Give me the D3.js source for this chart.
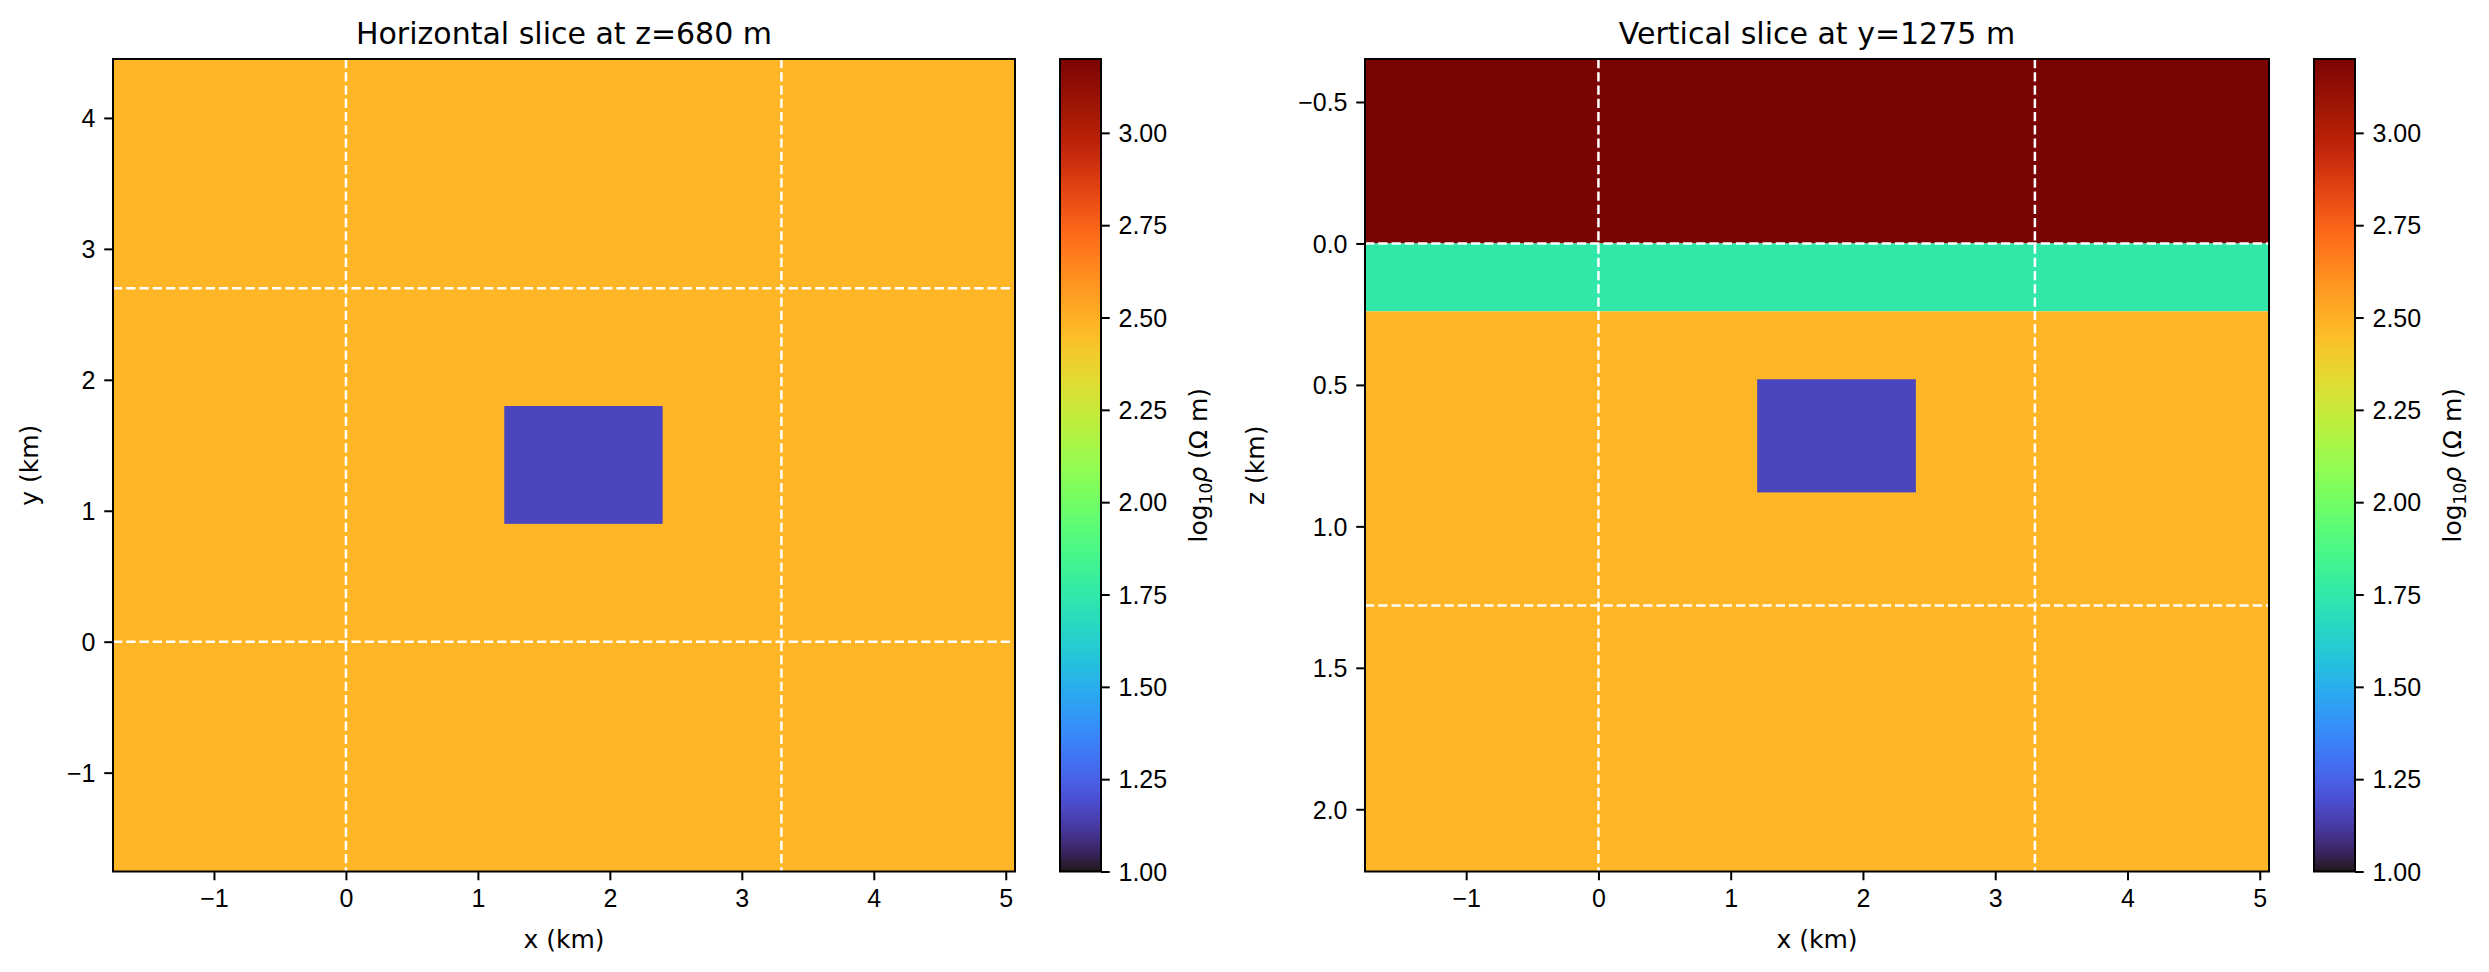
<!DOCTYPE html>
<meta charset="utf-8">
<style>
    body { margin: 0; background: #fff; }
    svg { font-family: "DejaVu Sans", sans-serif; }
    .tick text { font-size: 25px; fill: #000; }
    .tick line { stroke: #000; stroke-width: 2px; }
    .title { font-size: 30px; text-anchor: middle; }
    .label { font-size: 25px; text-anchor: middle; }
    .spine { fill: none; stroke: #000; stroke-width: 2px; }
    .guide { stroke: #fff; stroke-width: 2.5px; stroke-dasharray: 9.25 4; }
</style>
<body>
<script src="https://d3js.org/d3.v7.min.js"></script>
<script>
    // extent of the plotted mesh (km)
    var xDomain = [-1.765, 5.07],
        yDomain = [-1.755, 4.45],
        zDomain = [-0.652, 2.22];

    // tick values
    var xTicks = [-1, 0, 1, 2, 3, 4, 5],
        yTicks = [-1, 0, 1, 2, 3, 4],
        zTicks = [-0.5, 0, 0.5, 1, 1.5, 2],
        cbTicks = [1, 1.25, 1.5, 1.75, 2, 2.25, 2.5, 2.75, 3];

    // colour range of log10 resistivity
    var cbRange = [1, 3.2];

    // layered model: top, bottom (km) and log10 rho
    var layerTop = [-0.652, 0, 0.24],
        layerBottom = [0, 0.24, 2.22],
        layerRho = [3.2, 1.75, 2.48];

    // conductive block
    var blockX = [1.2, 2.4],
        blockY = [0.9, 1.8],
        blockZ = [0.48, 0.88],
        blockRho = 1.16;

    var backgroundRho = 2.48;

    // dashed guide lines
    var xGuides = [0, 3.3],
        yGuides = [0, 2.7],
        zGuides = [0, 1.28];

    var W = 2489, H = 972;
    var svg = d3.select("body").append("svg")
        .attr("width", W)
        .attr("height", H);

    // turbo, with the top end pulled to matplotlib's dark red
    var turboEnd = d3.interpolateRgb(d3.interpolateTurbo(0.9), "#7a0403");
    function turbo(t) {
        t = Math.max(0, Math.min(1, t));
        return t <= 0.9 ? d3.interpolateTurbo(t) : turboEnd((t - 0.9) / 0.1);
    }
    var color = d3.scaleSequential(turbo).domain(cbRange).clamp(true);

    var plotTop = 59, plotBottom = 871.5;

    var panels = [
        {
            left: 113, right: 1015, cbLeft: 1060,
            title: "Horizontal slice at z=680 m",
            ylab: "y (km)", ylabX: 38,
            yDom: [yDomain[0], yDomain[1]], yT: yTicks, yFmt: d3.format("d"),
            flip: false
        },
        {
            left: 1365, right: 2269, cbLeft: 2314,
            title: "Vertical slice at y=1275 m",
            ylab: "z (km)", ylabX: 1264,
            yDom: [zDomain[1], zDomain[0]], yT: zTicks, yFmt: d3.format(".1f"),
            flip: true
        }
    ];

    var defs = svg.append("defs");

    panels.forEach(function (p, k) {
        var x = d3.scaleLinear().domain(xDomain).range([p.left, p.right]);
        var y = d3.scaleLinear().domain(p.yDom).range([plotBottom, plotTop]);
        var g = svg.append("g");

        var clipId = "clip" + k;
        defs.append("clipPath").attr("id", clipId)
            .append("rect")
            .attr("x", p.left).attr("y", plotTop)
            .attr("width", p.right - p.left).attr("height", plotBottom - plotTop);

        var plot = g.append("g").attr("clip-path", "url(#" + clipId + ")");

        if (!p.flip) {
            plot.append("rect")
                .attr("x", x(xDomain[0])).attr("y", y(yDomain[1]))
                .attr("width", x(xDomain[1]) - x(xDomain[0]))
                .attr("height", y(yDomain[0]) - y(yDomain[1]))
                .attr("fill", color(backgroundRho));
            plot.append("rect")
                .attr("x", x(blockX[0])).attr("y", y(blockY[1]))
                .attr("width", x(blockX[1]) - x(blockX[0]))
                .attr("height", y(blockY[0]) - y(blockY[1]))
                .attr("fill", color(blockRho));
        } else {
            plot.selectAll("rect.layer")
                .data(layerRho)
                .enter().append("rect")
                .attr("class", "layer")
                .attr("x", x(xDomain[0]))
                .attr("width", x(xDomain[1]) - x(xDomain[0]))
                .attr("y", function (d, i) { return y(layerTop[i]); })
                .attr("height", function (d, i) { return y(layerBottom[i]) - y(layerTop[i]); })
                .attr("fill", function (d) { return color(d); });
            plot.append("rect")
                .attr("x", x(blockX[0])).attr("y", y(blockZ[0]))
                .attr("width", x(blockX[1]) - x(blockX[0]))
                .attr("height", y(blockZ[1]) - y(blockZ[0]))
                .attr("fill", color(blockRho));
        }

        // guide lines
        plot.selectAll("line.v")
            .data(xGuides)
            .enter().append("line")
            .attr("class", "guide v")
            .attr("x1", function (d) { return x(d); })
            .attr("x2", function (d) { return x(d); })
            .attr("y1", plotTop).attr("y2", plotBottom);
        plot.selectAll("line.h")
            .data(p.flip ? zGuides : yGuides)
            .enter().append("line")
            .attr("class", "guide h")
            .attr("y1", function (d) { return y(d); })
            .attr("y2", function (d) { return y(d); })
            .attr("x1", p.left).attr("x2", p.right);

        // axes
        var xa = g.append("g")
            .attr("transform", "translate(0," + plotBottom + ")")
            .call(d3.axisBottom(x).tickValues(xTicks).tickFormat(d3.format("d"))
                .tickSize(8.75).tickPadding(8.75));
        xa.select(".domain").remove();

        var ya = g.append("g")
            .attr("transform", "translate(" + p.left + ",0)")
            .call(d3.axisLeft(y).tickValues(p.yT).tickFormat(p.yFmt)
                .tickSize(8.75).tickPadding(8.75));
        ya.select(".domain").remove();
        ya.selectAll("text").attr("dy", "0.35em");

        g.append("rect").attr("class", "spine")
            .attr("x", p.left).attr("y", plotTop)
            .attr("width", p.right - p.left).attr("height", plotBottom - plotTop);

        g.append("text").attr("class", "title")
            .attr("x", (p.left + p.right) / 2).attr("y", 44)
            .text(p.title);

        g.append("text").attr("class", "label")
            .attr("x", (p.left + p.right) / 2).attr("y", 948)
            .text("x (km)");

        g.append("text").attr("class", "label")
            .attr("transform", "translate(" + p.ylabX + "," + ((plotTop + plotBottom) / 2) + ") rotate(-90)")
            .text(p.ylab);

        // colour bar
        var cbW = 41;
        var cy = d3.scaleLinear().domain(cbRange).range([plotBottom, plotTop]);
        var gradId = "grad" + k;
        var grad = defs.append("linearGradient").attr("id", gradId)
            .attr("x1", 0).attr("x2", 0).attr("y1", 1).attr("y2", 0);
        grad.selectAll("stop")
            .data(d3.range(0, 1.0001, 0.02))
            .enter().append("stop")
            .attr("offset", function (d) { return d; })
            .attr("stop-color", function (d) { return turbo(d); });

        g.append("rect")
            .attr("x", p.cbLeft).attr("y", plotTop)
            .attr("width", cbW).attr("height", plotBottom - plotTop)
            .attr("fill", "url(#" + gradId + ")");

        var ca = g.append("g")
            .attr("transform", "translate(" + (p.cbLeft + cbW) + ",0)")
            .call(d3.axisRight(cy).tickValues(cbTicks).tickFormat(d3.format(".2f"))
                .tickSize(8.75).tickPadding(8.75));
        ca.select(".domain").remove();
        ca.selectAll("text").attr("dy", "0.35em");

        g.append("rect").attr("class", "spine")
            .attr("x", p.cbLeft).attr("y", plotTop)
            .attr("width", cbW).attr("height", plotBottom - plotTop);

        var cl = g.append("text").attr("class", "label")
            .attr("transform", "translate(" + (p.cbLeft + cbW + 106) + "," + ((plotTop + plotBottom) / 2) + ") rotate(-90)");
        cl.append("tspan").text("log");
        cl.append("tspan").attr("font-size", "17px").attr("dy", "5").text("10");
        cl.append("tspan").attr("font-style", "italic").attr("dy", "-5").text("ρ");
        cl.append("tspan").text(" (Ω m)");
    });
</script>
</body>
